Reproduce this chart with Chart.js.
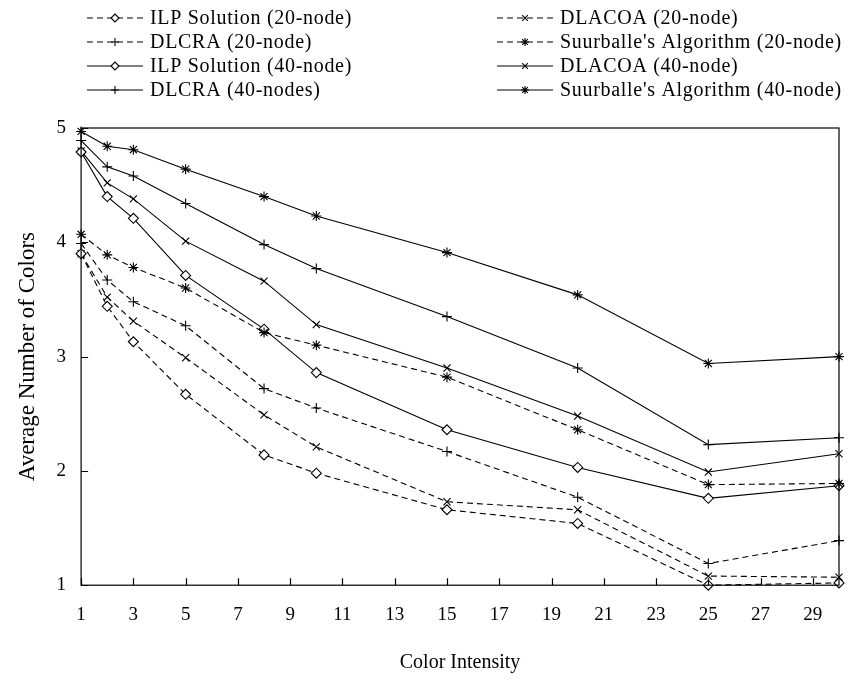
<!DOCTYPE html>
<html>
<head>
<meta charset="utf-8">
<script src="https://cdn.jsdelivr.net/npm/chart.js@4/dist/chart.umd.min.js"></script>
<style>
  body { margin: 0; background: #fff; }
  #wrap { width: 849px; height: 681px; }
</style>
</head>
<body>
<div id="wrap"><canvas id="myChart"></canvas></div>
<script>
var xValues = [1, 2, 3, 5, 8, 10, 15, 20, 25, 30]
var xTicks = [1, 3, 5, 7, 9, 11, 13, 15, 17, 19, 21, 23, 25, 27, 29]
var yTicks = [1, 2, 3, 4, 5]

var ilp20 = [3.90, 3.44, 3.13, 2.67, 2.14, 1.98, 1.66, 1.54, 1.00, 1.02]
var dlacoa20 = [3.90, 3.52, 3.31, 2.99, 2.49, 2.21, 1.73, 1.66, 1.08, 1.07]
var dlcra20 = [3.99, 3.67, 3.48, 3.27, 2.72, 2.55, 2.17, 1.77, 1.19, 1.39]
var suur20 = [4.07, 3.89, 3.78, 3.60, 3.21, 3.10, 2.82, 2.36, 1.88, 1.89]
var ilp40 = [4.79, 4.40, 4.21, 3.71, 3.24, 2.86, 2.36, 2.03, 1.76, 1.87]
var dlacoa40 = [4.80, 4.52, 4.38, 4.01, 3.66, 3.28, 2.90, 2.48, 1.99, 2.15]
var dlcra40 = [4.89, 4.66, 4.58, 4.34, 3.98, 3.77, 3.35, 2.90, 2.23, 2.29]
var suur40 = [4.97, 4.84, 4.81, 4.64, 4.40, 4.23, 3.91, 3.54, 2.94, 3.00]

var FONT = '"Liberation Serif", "Times New Roman", serif'

function pts(vals) {
  return vals.map(function (v, i) { return { x: xValues[i], y: v } })
}

function series(label, vals, marker, dashed) {
  return {
    label: label,
    data: pts(vals),
    borderColor: '#000',
    borderWidth: 1.1,
    borderDash: dashed ? [6, 4] : [],
    pointStyle: marker,
    pointRadius: 5,
    pointBorderWidth: 1.1,
    pointBorderColor: '#000',
    pointBackgroundColor: '#fff',
    backgroundColor: '#fff',
    fill: false,
    tension: 0,
    clip: false,
  }
}

// legend is drawn by hand, two columns of four rows
var legendOrder = [
  ['ILP Solution (20-node)', 'DLACOA (20-node)'],
  ['DLCRA (20-node)', "Suurballe's Algorithm (20-node)"],
  ['ILP Solution (40-node)', 'DLACOA (40-node)'],
  ['DLCRA (40-nodes)', "Suurballe's Algorithm (40-node)"],
]

var frameAndLegend = {
  id: 'frameAndLegend',
  afterDraw: function (chart) {
    var c = chart.ctx
    var a = chart.chartArea
    var xs = chart.scales.x
    var ys = chart.scales.y
    c.save()
    c.strokeStyle = '#000'
    c.lineWidth = 1.2
    c.strokeRect(a.left, a.top, a.right - a.left, a.bottom - a.top)
    // inward tick marks
    c.beginPath()
    xTicks.forEach(function (t) {
      var px = Math.round(xs.getPixelForValue(t)) + 0.5
      c.moveTo(px, a.bottom)
      c.lineTo(px, a.bottom - 7)
    })
    yTicks.forEach(function (t) {
      var py = Math.round(ys.getPixelForValue(t)) + 0.5
      c.moveTo(a.left, py)
      c.lineTo(a.left + 7, py)
    })
    c.stroke()

    // legend
    c.font = '20px ' + FONT
    c.letterSpacing = '0.7px'
    c.textBaseline = 'middle'
    var colX = [87, 497]
    legendOrder.forEach(function (row, r) {
      row.forEach(function (label, col) {
        var ds = chart.data.datasets.find(function (d) { return d.label === label })
        var y = 18 + r * 24
        var x0 = colX[col]
        c.strokeStyle = '#000'
        c.lineWidth = 1.1
        c.setLineDash(ds.borderDash)
        c.beginPath()
        c.moveTo(x0, y)
        c.lineTo(x0 + 56, y)
        c.stroke()
        c.setLineDash([])
        c.fillStyle = '#fff'
        Chart.helpers.drawPoint(c, {
          pointStyle: ds.pointStyle,
          radius: 4,
          borderWidth: 1.1,
          rotation: 0,
        }, x0 + 28, y)
        c.fillStyle = '#000'
        c.fillText(label, x0 + 63, y + 1)
      })
    })
    c.restore()
  },
}

var ctx = document.getElementById('myChart').getContext('2d')

var myChart = new Chart(ctx, {
  type: 'line',
  data: {
    datasets: [
      series('ILP Solution (20-node)', ilp20, 'rectRot', true),
      series('DLACOA (20-node)', dlacoa20, 'crossRot', true),
      series('DLCRA (20-node)', dlcra20, 'cross', true),
      series("Suurballe's Algorithm (20-node)", suur20, 'star', true),
      series('ILP Solution (40-node)', ilp40, 'rectRot', false),
      series('DLACOA (40-node)', dlacoa40, 'crossRot', false),
      series('DLCRA (40-nodes)', dlcra40, 'cross', false),
      series("Suurballe's Algorithm (40-node)", suur40, 'star', false),
    ],
  },
  options: {
    responsive: true,
    maintainAspectRatio: false,
    animation: { duration: 0 },
    layout: { padding: { top: 128, right: 10, left: 14, bottom: 2 } },
    plugins: {
      legend: { display: false },
      tooltip: { enabled: false },
    },
    scales: {
      x: {
        type: 'linear',
        min: 1,
        max: 30,
        afterBuildTicks: function (s) {
          s.ticks = xTicks.map(function (v) { return { value: v } })
        },
        grid: { display: false, drawTicks: false },
        border: { display: false },
        ticks: {
          color: '#000',
          padding: 18,
          maxRotation: 0,
          autoSkip: false,
          font: { family: FONT, size: 19 },
        },
        title: {
          display: true,
          text: 'Color Intensity',
          color: '#000',
          padding: { top: 7 },
          font: { family: FONT, size: 20 },
        },
      },
      y: {
        min: 1,
        max: 5,
        afterBuildTicks: function (s) {
          s.ticks = yTicks.map(function (v) { return { value: v } })
        },
        grid: { display: false, drawTicks: false },
        border: { display: false },
        ticks: {
          color: '#000',
          padding: 15,
          font: { family: FONT, size: 19 },
        },
        title: {
          display: true,
          text: 'Average Number of Colors',
          color: '#000',
          padding: { top: 0, bottom: 0 },
          font: { family: FONT, size: 23 },
        },
      },
    },
  },
  plugins: [frameAndLegend],
})
</script>
</body>
</html>
